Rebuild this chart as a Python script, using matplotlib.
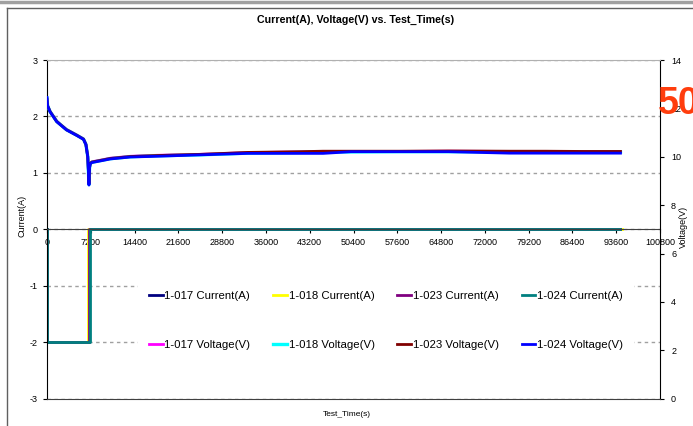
import matplotlib.pyplot as plt
from matplotlib.lines import Line2D

plt.rcParams['font.family'] = ['Liberation Sans', 'DejaVu Sans']
plt.rcParams['axes.unicode_minus'] = False

# 1) Data
# voltage traces (right axis), shared time base
t_volt = [0, 100, 500, 1600, 3200, 4900, 6000, 6400, 6700, 6800, 6900, 7000,
          7100, 7350, 9000, 10400, 13700, 18000, 25200, 33000, 41600, 45400,
          50000, 58000, 66000, 76000, 82000, 88000, 94300]
volt_017 = [12.40, 12.12, 11.88, 11.47, 11.13, 10.90, 10.74, 10.52, 10.02, 9.48,
            8.90, 9.56, 9.72, 9.79, 9.87, 9.94, 10.02, 10.06, 10.10, 10.17, 10.20,
            10.22, 10.22, 10.22, 10.23, 10.22, 10.21, 10.21, 10.21]
volt_018 = [12.42, 12.11, 11.87, 11.46, 11.12, 10.89, 10.73, 10.51, 10.01, 9.46,
            8.85, 9.55, 9.71, 9.77, 9.85, 9.92, 10.00, 10.04, 10.08, 10.15, 10.18,
            10.20, 10.20, 10.21, 10.21, 10.20, 10.19, 10.19, 10.19]
volt_023 = [12.38, 12.11, 11.87, 11.46, 11.12, 10.89, 10.73, 10.51, 10.01, 9.47,
            8.88, 9.55, 9.71, 9.78, 9.86, 9.93, 10.01, 10.05, 10.10, 10.18, 10.21,
            10.23, 10.23, 10.23, 10.24, 10.23, 10.23, 10.22, 10.22]
volt_024 = [12.45, 12.10, 11.86, 11.45, 11.11, 10.88, 10.72, 10.50, 10.00, 9.45,
            8.83, 9.54, 9.70, 9.76, 9.84, 9.91, 9.99, 10.02, 10.08, 10.14, 10.14,
            10.14, 10.21, 10.21, 10.21, 10.15, 10.15, 10.15, 10.15]

# current traces (left axis): rest, -2 A step, then 0 A
t_cur_017 = [0, 0, 6900, 6900, 94300]
t_cur_018 = [0, 0, 6800, 6800, 94600]
t_cur_023 = [0, 0, 6950, 6950, 94300]
t_cur_024 = [0, 0, 7100, 7100, 94300]
cur_017 = [0, -2, -2, 0, 0]
cur_018 = [0, -2, -2, 0, 0]
cur_023 = [0, -2, -2, 0, 0]
cur_024 = [0, -2, -2, 0, 0]

x_ticks = list(range(0, 100801, 7200))
left_ticks = [-3, -2, -1, 0, 1, 2, 3]
right_ticks = [0, 2, 4, 6, 8, 10, 12, 14]

# 2) Figure and axes
fig = plt.figure(figsize=(6.93, 4.26), dpi=100)
ax = fig.add_axes([47/693, 1 - 398.7/426, (660 - 47)/693, (398.7 - 60)/426])
ax2 = ax.twinx()

c017, c018, c023, c024 = '#000080', '#ffff00', '#800080', '#008080'
v017, v018, v023, v024 = '#ff00ff', '#00ffff', '#800000', '#0000ff'

h_c017, = ax.plot(t_cur_017, cur_017, color=c017, lw=2)
h_c018, = ax.plot(t_cur_018, cur_018, color=c018, lw=2)
h_c023, = ax.plot(t_cur_023, cur_023, color=c023, lw=2)
h_c024, = ax.plot(t_cur_024, cur_024, color=c024, lw=2)

h_v017, = ax2.plot(t_volt, volt_017, color=v017, lw=2)
h_v018, = ax2.plot(t_volt, volt_018, color=v018, lw=2.4)
h_v023, = ax2.plot(t_volt, volt_023, color=v023, lw=2)
h_v024, = ax2.plot(t_volt, volt_024, color=v024, lw=2)

# 3) Axes styling
ax.set_xlim(0, 100800)
ax.set_ylim(-3, 3)
ax2.set_ylim(0, 14)
ax.set_xticks(x_ticks)
ax.set_yticks(left_ticks)
ax2.set_yticks(right_ticks)

ax.grid(axis='y', color='#a0a0a0', linestyle=(0, (2.5, 2.5)), lw=1)
ax.spines['bottom'].set_position(('data', 0))
ax.spines['bottom'].set_color('#404040')
ax.spines['top'].set_visible(False)
ax.spines['right'].set_visible(False)
ax.spines['left'].set_color('black')
ax2.spines['left'].set_visible(False)
ax2.spines['top'].set_color('#b0b0b0')
ax2.spines['bottom'].set_color('#404040')
ax2.spines['right'].set_color('black')

ax.tick_params(axis='x', direction='out', length=3, labelsize=6.5, pad=3)
ax.tick_params(axis='y', direction='out', length=3, labelsize=6.5, pad=4)
ax2.tick_params(axis='y', direction='out', length=3, labelsize=6.5, pad=5)

# 4) Legend (column-major order -> two rows)
handles = [h_c017, h_v017, h_c018, h_v018, h_c023, h_v023, h_c024, h_v024]
labels = ['1-017 Current(A)', '1-017 Voltage(V)', '1-018 Current(A)', '1-018 Voltage(V)',
          '1-023 Current(A)', '1-023 Voltage(V)', '1-024 Current(A)', '1-024 Voltage(V)']
leg = ax2.legend(handles, labels, ncol=4, loc='center',
                 bbox_to_anchor=(386/693, 1 - 320.5/426), bbox_transform=fig.transFigure,
                 fontsize=8.2, frameon=True, facecolor='white', edgecolor='none',
                 framealpha=1, fancybox=False, handlelength=1.2, handletextpad=0.15,
                 columnspacing=2.0, labelspacing=3.35, borderpad=1.0)
leg.set_zorder(5)

# 5) Texts
fig.text(356/693, 1 - 20/426, 'Current(A), Voltage(V) vs. Test_Time(s)',
         ha='center', va='center', fontsize=7.7, fontweight='bold')
fig.text(347/693, 1 - 414/426, 'Test_Time(s)', ha='center', va='center', fontsize=6)
fig.text(22/693, 1 - 216/426, 'Current(A)', ha='center', va='center',
         rotation=90, fontsize=6.5)
fig.text(683/693, 1 - 227/426, 'Voltage(V)', ha='center', va='center',
         rotation=90, fontsize=6.5)
fig.text(658/693, 1 - 104/426, '50', ha='left', va='center', fontsize=27,
         fontweight='bold', color='#ff3d0d', zorder=10)

# chart box borders
fig.add_artist(Line2D([0, 1], [1 - 1.5/426, 1 - 1.5/426], color='#a0a0a0', lw=2.5))
fig.add_artist(Line2D([6.5/693, 6.5/693], [0, 1 - 8/426], color='#606060', lw=1))
fig.add_artist(Line2D([6.5/693, 1], [1 - 8/426, 1 - 8/426], color='#606060', lw=1))

fig.savefig('out.png', dpi=100)
